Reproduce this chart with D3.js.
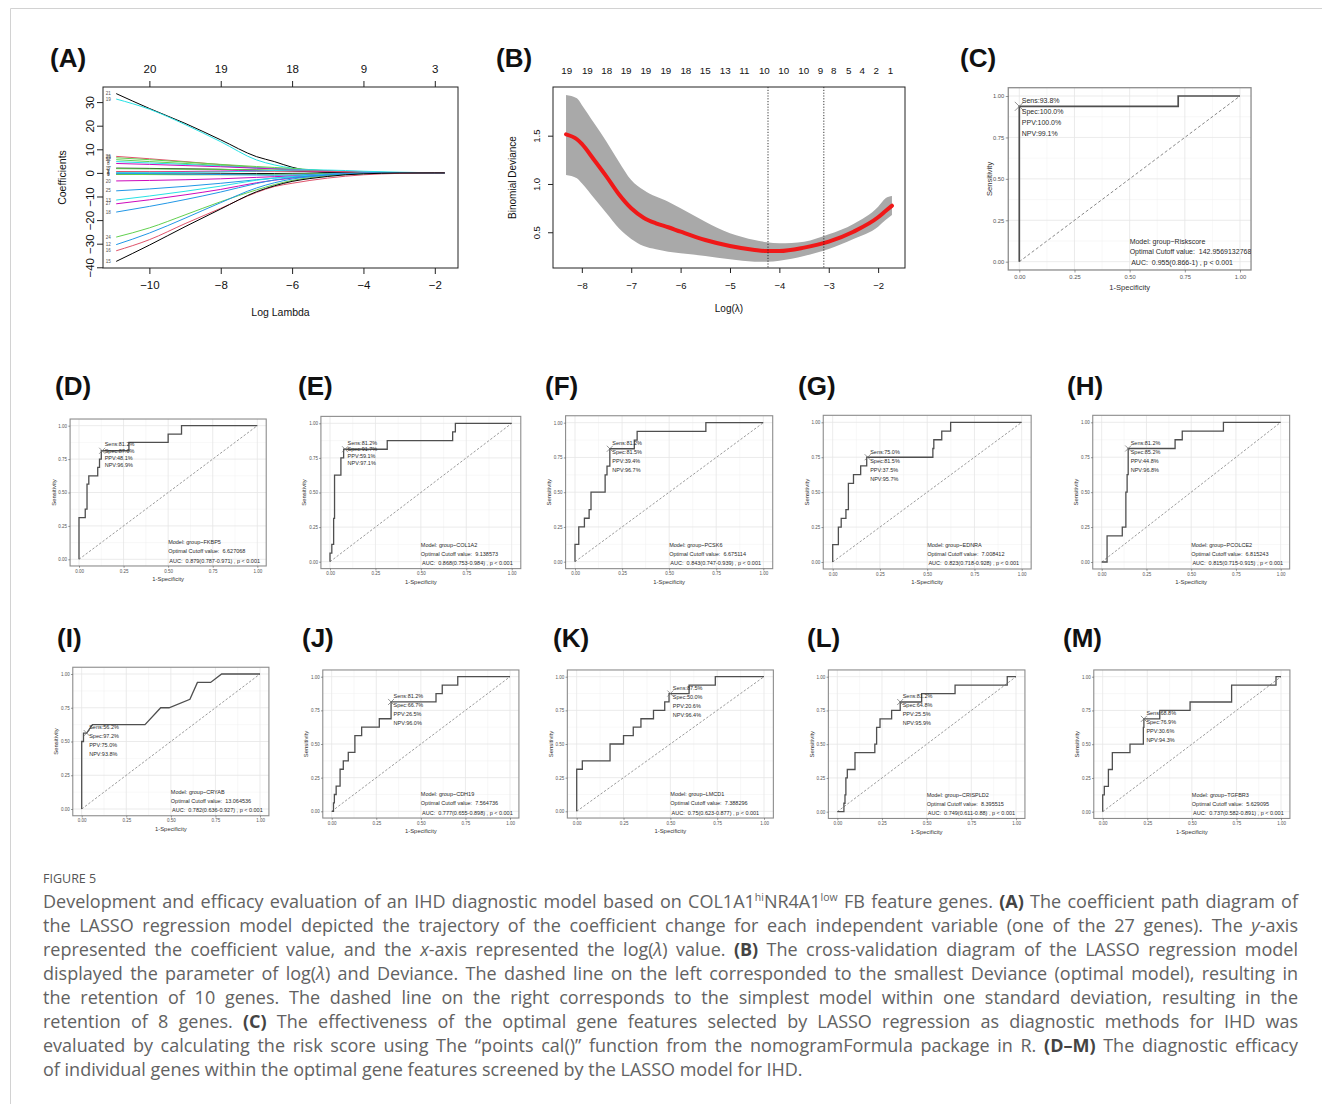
<!DOCTYPE html>
<html><head><meta charset="utf-8">
<script src="https://cdn.jsdelivr.net/npm/d3@7"></script>
<style>
body{margin:0;background:#fff;}
#wrap{position:relative;width:1322px;height:1104px;overflow:hidden;background:#fff;}
#wrap svg{position:absolute;left:0;top:0;}
.cap{position:absolute;left:43px;white-space:nowrap;font-family:'Open Sans','Noto Sans',sans-serif;font-size:18px;color:#626262;line-height:24px;}
.cap b{color:#444;font-weight:700;}
.cap sup{font-size:10.5px;vertical-align:0;position:relative;top:-7px;line-height:0;}
.fig{position:absolute;left:43px;top:870px;font-family:'Open Sans','Noto Sans',sans-serif;font-size:12.5px;color:#555;line-height:18px;}
</style></head><body><div id="wrap"></div>
<script>
// ---------------- DATA ----------------
// Panel A: LASSO coefficient paths
const lassoLogLambda = [-10.93,-10,-9,-8,-7,-6.5,-6,-5.5,-5,-4.5,-4,-3,-2,-1.72];
const lassoXTicks = [-10,-8,-6,-4,-2];
const lassoYTicks = [-40,-30,-20,-10,0,10,20,30];
const lassoTopTicks = [-10,-8,-6,-4,-2];
const lassoTopLabels = ["20","19","18","9","3"];
const lassoGenes = ["21","19","26","23","22","5","8","17","3","1","6","9","2","4","7","20","25","13","27","18","24","12","16","15"];
const lassoColors = ["#000000","#28E2E5","#DF536B","#61D04F","#61D04F","#28E2E5","#CD0BBC","#000000","#61D04F","#CD0BBC","#000000","#61D04F","#DF536B","#2297E6","#28E2E5","#CD0BBC","#2297E6","#28E2E5","#CD0BBC","#2297E6","#61D04F","#2297E6","#DF536B","#000000"];
const lassoCoefs = [
 [33.6,27.3,21.0,14.0,6.9,4.8,2.4,0.9,0.3,0.1,0,0,0,0],
 [31.3,27.0,20.5,13.2,5.5,3.4,2.0,1.3,0.8,0.4,0.1,0,0,0],
 [7.0,6.0,4.8,3.5,2.3,1.8,1.4,1.0,0.7,0.4,0.2,0.05,0,0],
 [6.4,5.6,4.6,3.6,2.7,2.3,1.9,1.4,0.9,0.5,0.2,0.05,0,0],
 [5.6,4.8,4.0,3.1,2.2,1.8,1.5,1.1,0.7,0.4,0.2,0,0,0],
 [4.8,4.2,3.6,2.9,2.1,1.8,1.5,1.2,0.8,0.5,0.3,0.1,0,0],
 [4.0,3.6,3.1,2.6,2.0,1.7,1.4,1.1,0.8,0.5,0.3,0.1,0,0],
 [2.0,1.9,1.7,1.5,1.2,1.0,0.8,0.5,0.3,0.1,0,0,0,0],
 [1.8,1.7,1.6,1.5,1.3,1.2,1.1,0.9,0.6,0.3,0.1,0,0,0],
 [0.3,0.4,0.6,0.8,1.0,1.0,0.9,0.7,0.5,0.3,0.2,0.05,0,0],
 [-0.5,-0.5,-0.5,-0.4,-0.3,-0.25,-0.2,-0.15,-0.1,-0.05,0,0,0,0],
 [-0.6,-0.7,-0.8,-0.8,-0.7,-0.6,-0.5,-0.4,-0.3,-0.2,-0.1,0,0,0],
 [0.6,0.5,0.4,0.5,0.6,0.7,0.8,0.8,0.7,0.5,0.3,0.1,0,0],
 [-0.2,-0.3,-0.5,-0.7,-0.9,-1.0,-0.9,-0.7,-0.5,-0.3,-0.2,-0.05,0,0],
 [0.1,0.1,0.2,0.4,0.8,1.0,1.2,1.3,1.2,1.0,0.7,0.3,0.05,0],
 [-3.4,-3.2,-2.9,-2.5,-1.9,-1.6,-1.3,-1.0,-0.7,-0.4,-0.2,0,0,0],
 [-7.6,-6.8,-5.7,-4.4,-2.9,-2.2,-1.6,-1.1,-0.7,-0.4,-0.2,0,0,0],
 [-11.5,-9.8,-7.8,-5.6,-3.1,-2.2,-1.5,-1.0,-0.6,-0.3,-0.1,0,0,0],
 [-13.1,-11.4,-9.3,-7.0,-4.2,-3.1,-2.2,-1.5,-0.9,-0.5,-0.2,0,0,0],
 [-16.6,-14.2,-11.3,-8.1,-4.5,-3.0,-2.0,-1.3,-0.8,-0.4,-0.2,0,0,0],
 [-27.2,-23.3,-17.8,-12.2,-7.2,-5.0,-3.2,-2.0,-1.2,-0.6,-0.3,-0.05,0,0],
 [-30.4,-25.5,-19.2,-12.6,-6.4,-4.2,-2.6,-1.6,-0.9,-0.4,-0.1,0,0,0],
 [-33.0,-28.3,-21.5,-15.0,-8.3,-5.8,-4.4,-3.2,-2.2,-1.4,-0.8,-0.2,0,0],
 [-37.5,-30.6,-22.8,-15.3,-8.0,-5.5,-3.6,-2.4,-1.5,-0.8,-0.4,-0.05,0,0]
];

// Panel B: cross-validation curve
const cvLogLambda = [-8.32,-8.1,-8.0,-7.75,-7.5,-7.25,-7.0,-6.75,-6.5,-6.25,-6.0,-5.5,-5.0,-4.5,-4.25,-4.0,-3.5,-3.0,-2.5,-2.0,-1.85,-1.72];
const cvMean  = [1.514,1.463,1.414,1.248,1.076,0.893,0.748,0.651,0.593,0.552,0.506,0.420,0.358,0.317,0.306,0.306,0.341,0.403,0.506,0.655,0.720,0.775];
const cvUpper = [1.921,1.887,1.818,1.628,1.438,1.231,1.041,0.938,0.869,0.817,0.748,0.610,0.490,0.420,0.396,0.386,0.403,0.479,0.586,0.765,0.852,0.876];
const cvLower = [1.093,1.059,1.007,0.852,0.697,0.541,0.431,0.358,0.324,0.299,0.283,0.255,0.220,0.196,0.196,0.206,0.255,0.327,0.431,0.558,0.627,0.679];
const cvXTicks = [-8,-7,-6,-5,-4,-3,-2];
const cvYTicks = [0.5,1.0,1.5];
const cvTopLambda = [-8.306,-7.888,-7.495,-7.103,-6.704,-6.298,-5.893,-5.501,-5.095,-4.710,-4.304,-3.913,-3.507,-3.168,-2.898,-2.594,-2.322,-2.038,-1.749];
const cvTopLabels = ["19","19","18","19","19","19","18","15","13","11","10","10","10","9","8","5","4","2","1"];
const cvLambdaMin = -4.23;
const cvLambda1se = -3.10;

// Panels C-M: ROC curves
const rocIds = ["C","D","E","F","G","H","I","J","K","L","M"];
const rocGenes = ["Riskscore","FKBP5","COL1A2","PCSK6","EDNRA","PCOLCE2","CRYAB","CDH19","LMCD1","CRISPLD2","TGFBR3"];
const rocCutoffs = ["142.95691327688","6.627068","9.138573","6.675114","7.008412","6.815243","13.064536","7.564736","7.388296","8.395515","5.629095"];
const rocAUC = ["0.955(0.866-1)","0.879(0.787-0.971)","0.868(0.753-0.984)","0.843(0.747-0.939)","0.823(0.718-0.928)","0.815(0.715-0.915)","0.782(0.636-0.927)","0.777(0.655-0.898)","0.75(0.623-0.877)","0.749(0.611-0.88)","0.737(0.582-0.891)"];
const rocSens = ["93.8%","81.2%","81.2%","81.2%","75.0%","81.2%","56.2%","81.2%","87.5%","81.2%","68.8%"];
const rocSpec = ["100.0%","87.0%","91.7%","81.5%","81.5%","85.2%","97.2%","66.7%","50.0%","64.8%","76.9%"];
const rocPPV  = ["100.0%","48.1%","59.1%","39.4%","37.5%","44.8%","75.0%","26.5%","20.6%","25.5%","30.6%"];
const rocNPV  = ["99.1%","96.9%","97.1%","96.7%","95.7%","96.8%","93.8%","96.0%","96.4%","95.9%","94.3%"];
const rocOpt = [[0,0.9375],[0.13,0.8125],[0.083,0.8125],[0.185,0.8125],[0.185,0.75],[0.148,0.8125],[0.028,0.5625],[0.333,0.8125],[0.5,0.875],[0.352,0.8125],[0.231,0.6875]];
const rocCurves = [
 [[0,0],[0,0.9375],[0.72,0.9375],[0.72,1],[1,1]],
 [[0,0],[0,0.3125],[0.035,0.3125],[0.035,0.375],[0.045,0.375],[0.045,0.5625],[0.055,0.5625],[0.055,0.625],[0.105,0.625],[0.105,0.6875],[0.115,0.6875],[0.115,0.75],[0.125,0.75],[0.125,0.8125],[0.28,0.8125],[0.28,0.875],[0.5,0.875],[0.5,0.9375],[0.575,0.9375],[0.575,1],[1,1]],
 [[0,0],[0,0.0625],[0.01,0.0625],[0.01,0.125],[0.02,0.125],[0.02,0.3125],[0.025,0.3125],[0.025,0.625],[0.06,0.625],[0.06,0.75],[0.075,0.75],[0.075,0.8125],[0.315,0.8125],[0.315,0.875],[0.675,0.875],[0.675,0.9375],[0.69,0.9375],[0.69,1],[1,1]],
 [[0,0],[0,0.125],[0.02,0.125],[0.02,0.25],[0.05,0.25],[0.05,0.3125],[0.075,0.3125],[0.075,0.375],[0.085,0.375],[0.085,0.5],[0.16,0.5],[0.16,0.625],[0.17,0.625],[0.17,0.6875],[0.185,0.6875],[0.185,0.8125],[0.315,0.8125],[0.315,0.875],[0.33,0.875],[0.33,0.9375],[0.695,0.9375],[0.695,1],[1,1]],
 [[0,0],[0,0.125],[0.03,0.125],[0.03,0.25],[0.045,0.25],[0.045,0.3125],[0.07,0.3125],[0.07,0.375],[0.083,0.375],[0.083,0.5625],[0.11,0.5625],[0.11,0.625],[0.148,0.625],[0.148,0.6875],[0.18,0.6875],[0.18,0.75],[0.53,0.75],[0.53,0.8125],[0.535,0.8125],[0.535,0.875],[0.577,0.875],[0.577,0.9375],[0.624,0.9375],[0.624,1],[1,1]],
 [[0,0],[0.03,0],[0.03,0.1875],[0.115,0.1875],[0.115,0.25],[0.135,0.25],[0.135,0.5],[0.142,0.5],[0.142,0.625],[0.148,0.625],[0.148,0.8125],[0.41,0.8125],[0.41,0.875],[0.45,0.875],[0.45,0.9375],[0.68,0.9375],[0.68,1],[1,1]],
 [[0,0],[0,0.5],[0.01,0.5],[0.01,0.5625],[0.028,0.5625],[0.06,0.625],[0.355,0.625],[0.443,0.75],[0.49,0.75],[0.607,0.8125],[0.649,0.9375],[0.723,0.9375],[0.785,1],[1,1]],
 [[0,0],[0.01,0],[0.01,0.0625],[0.015,0.0625],[0.015,0.125],[0.025,0.125],[0.025,0.1875],[0.047,0.1875],[0.047,0.3125],[0.065,0.3125],[0.065,0.375],[0.093,0.375],[0.093,0.4375],[0.13,0.4375],[0.13,0.5625],[0.168,0.5625],[0.168,0.625],[0.267,0.625],[0.267,0.6875],[0.333,0.6875],[0.333,0.8125],[0.585,0.8125],[0.585,0.875],[0.62,0.875],[0.62,0.9375],[0.707,0.9375],[0.707,1],[1,1]],
 [[0,0],[0,0.3125],[0.03,0.3125],[0.03,0.375],[0.178,0.375],[0.178,0.5],[0.25,0.5],[0.25,0.5625],[0.302,0.5625],[0.302,0.625],[0.343,0.625],[0.343,0.6875],[0.41,0.6875],[0.41,0.75],[0.47,0.75],[0.47,0.8125],[0.493,0.8125],[0.493,0.875],[0.6,0.875],[0.6,0.9375],[0.74,0.9375],[0.74,1],[1,1]],
 [[0,0],[0.037,0],[0.037,0.0625],[0.043,0.0625],[0.043,0.125],[0.048,0.125],[0.048,0.25],[0.056,0.25],[0.056,0.3125],[0.099,0.3125],[0.099,0.4375],[0.21,0.4375],[0.21,0.5],[0.22,0.5],[0.22,0.625],[0.239,0.625],[0.239,0.6875],[0.304,0.6875],[0.304,0.75],[0.352,0.75],[0.352,0.8125],[0.472,0.8125],[0.472,0.875],[0.659,0.875],[0.659,0.9375],[0.951,0.9375],[0.951,1],[1,1]],
 [[0,0],[0,0.125],[0.009,0.125],[0.009,0.1875],[0.032,0.1875],[0.032,0.3125],[0.054,0.3125],[0.054,0.4375],[0.153,0.4375],[0.153,0.5],[0.228,0.5],[0.228,0.625],[0.231,0.625],[0.231,0.6875],[0.32,0.6875],[0.32,0.75],[0.49,0.75],[0.49,0.8125],[0.723,0.8125],[0.723,0.9375],[0.972,0.9375],[0.972,1],[1,1]]
];
const rocTicks = [0,0.25,0.5,0.75,1];
const rocTickLabels = ["0.00","0.25","0.50","0.75","1.00"];

// Caption
const figureTitle = "FIGURE 5";
const captionLines = [
 "Development and efficacy evaluation of an IHD diagnostic model based on COL1A1<sup>hi</sup>NR4A1<sup>low</sup> FB feature genes. <b>(A)</b> The coefficient path diagram of",
 "the LASSO regression model depicted the trajectory of the coefficient change for each independent variable (one of the 27 genes). The <i>y</i>-axis",
 "represented the coefficient value, and the <i>x</i>-axis represented the log(<i>λ</i>) value. <b>(B)</b> The cross-validation diagram of the LASSO regression model",
 "displayed the parameter of log(<i>λ</i>) and Deviance. The dashed line on the left corresponded to the smallest Deviance (optimal model), resulting in",
 "the retention of 10 genes. The dashed line on the right corresponds to the simplest model within one standard deviation, resulting in the",
 "retention of 8 genes. <b>(C)</b> The effectiveness of the optimal gene features selected by LASSO regression as diagnostic methods for IHD was",
 "evaluated by calculating the risk score using The “points cal()” function from the nomogramFormula package in R. <b>(D–M)</b> The diagnostic efficacy",
 "of individual genes within the optimal gene features screened by the LASSO model for IHD."
];

// ---------------- LAYOUT ----------------
const W = 1322, H = 1104;
const FONT = "'Liberation Sans', Arial, Helvetica, sans-serif";
const panelLetters = [
 ["(A)",50,67],["(B)",496,67],["(C)",960,67],
 ["(D)",55,395],["(E)",298,395],["(F)",545,395],["(G)",798,395],["(H)",1067,395],
 ["(I)",57,647],["(J)",302,647],["(K)",553,647],["(L)",807,647],["(M)",1063,647]
];
// tick pixel positions of 0 and 1 for each ROC panel: [x@0, x@1, y@0, y@1]
const rocLayout = [
 [1019.3,1240,261.7,96],
 [79,257.3,559.3,425.7],
 [330,511.7,561.7,423.3],
 [575,763.3,561.7,422.7],
 [832.7,1021.7,562,422.3],
 [1101.7,1280.7,562,422.3],
 [81.7,260,809,674],
 [331.7,510,811.3,676.7],
 [576.7,764,811.3,676.7],
 [837.3,1016,811.7,676.7],
 [1102.7,1281,811.7,676.7]
];

const wrap = d3.select("#wrap");
const svg = wrap.append("svg").attr("width", W).attr("height", H);
svg.append("rect").attr("width", W).attr("height", H).attr("fill", "#fff");
svg.append("path").attr("d", "M10.5,1104V8.5H1322").attr("fill", "none").attr("stroke", "#d2d2d2").attr("stroke-width", 1);

// panel letters
svg.append("g").selectAll("text").data(panelLetters).join("text")
  .attr("x", d => d[1]).attr("y", d => d[2]).text(d => d[0])
  .attr("font-family", FONT).attr("font-weight", 700).attr("font-size", 26).attr("fill", "#111");

// ---------------- PANEL A ----------------
(function(){
  const box = {x0:103, x1:458, y0:87, y1:268};
  const x = d3.scaleLinear().domain([-11.30,-1.35]).range([box.x0, box.x1]);
  const y = d3.scaleLinear().domain([-40.3,36.4]).range([box.y1, box.y0]);
  const g = svg.append("g").attr("font-family", FONT);
  const line = d3.line().x(d => x(d[0])).y(d => y(d[1])).curve(d3.curveMonotoneX);
  lassoCoefs.forEach((vals, i) => {
    g.append("path").datum(vals.map((v, j) => [lassoLogLambda[j], v]))
      .attr("d", line).attr("fill", "none").attr("stroke", lassoColors[i]).attr("stroke-width", 1);
  });
  g.selectAll("text.lab").data(lassoCoefs).join("text").attr("class","lab")
    .attr("x", x(lassoLogLambda[0]) - 8).attr("y", d => y(d[0]) + 1.6)
    .attr("text-anchor", "middle").attr("font-size", 4.6).attr("fill", "#555")
    .text((d, i) => lassoGenes[i]);
  g.append("rect").attr("x", box.x0).attr("y", box.y0).attr("width", box.x1 - box.x0).attr("height", box.y1 - box.y0)
    .attr("fill", "none").attr("stroke", "#222").attr("stroke-width", 1);
  const ax = g.append("g").attr("transform", `translate(0,${box.y1})`)
    .call(d3.axisBottom(x).tickValues(lassoXTicks).tickSize(6).tickPadding(7).tickFormat(d3.format("d")));
  const at = g.append("g").attr("transform", `translate(0,${box.y0})`)
    .call(d3.axisTop(x).tickValues(lassoTopTicks).tickSize(6).tickPadding(8).tickFormat((d,i) => lassoTopLabels[i]));
  const ay = g.append("g").attr("transform", `translate(${box.x0},0)`)
    .call(d3.axisLeft(y).tickValues(lassoYTicks).tickSize(6).tickFormat(d3.format("d")));
  [ax, at, ay].forEach(a => { a.select(".domain").remove(); a.selectAll("line").attr("stroke", "#222");
    a.selectAll("text").attr("font-family", FONT).attr("font-size", 11.5).attr("fill", "#111"); });
  ay.selectAll("text").attr("x", null).attr("dy", "0.35em").attr("text-anchor", "middle")
    .attr("transform", "translate(-13,0) rotate(-90)");
  g.append("text").attr("transform", `translate(62,${(box.y0 + box.y1) / 2}) rotate(-90)`).attr("dy", "0.35em")
    .attr("text-anchor", "middle").attr("font-size", 10.5).attr("fill", "#111").text("Coefficients");
  g.append("text").attr("x", (box.x0 + box.x1) / 2).attr("y", 315.5)
    .attr("text-anchor", "middle").attr("font-size", 10.5).attr("fill", "#111").text("Log Lambda");
})();

// ---------------- PANEL B ----------------
(function(){
  const box = {x0:553, x1:905, y0:87, y1:268};
  const x = d3.scaleLinear().domain([-8.584,-1.456]).range([box.x0, box.x1]);
  const y = d3.scaleLinear().domain([0.13,2.004]).range([box.y1, box.y0]);
  const g = svg.append("g").attr("font-family", FONT);
  const pts = cvLogLambda.map((l, i) => ({l, m: cvMean[i], u: cvUpper[i], lo: cvLower[i]}));
  g.append("path").datum(pts)
    .attr("d", d3.area().x(d => x(d.l)).y0(d => y(d.lo)).y1(d => y(d.u)).curve(d3.curveMonotoneX))
    .attr("fill", "#a9a9a9");
  g.append("path").datum(pts)
    .attr("d", d3.line().x(d => x(d.l)).y(d => y(d.m)).curve(d3.curveMonotoneX))
    .attr("fill", "none").attr("stroke", "#f01818").attr("stroke-width", 4).attr("stroke-linecap", "round");
  [cvLambdaMin, cvLambda1se].forEach(v => {
    g.append("line").attr("x1", x(v)).attr("x2", x(v)).attr("y1", box.y0).attr("y2", box.y1)
      .attr("stroke", "#222").attr("stroke-width", 0.9).attr("stroke-dasharray", "1.2,1.6");
  });
  g.append("rect").attr("x", box.x0).attr("y", box.y0).attr("width", box.x1 - box.x0).attr("height", box.y1 - box.y0)
    .attr("fill", "none").attr("stroke", "#222").attr("stroke-width", 1);
  const ax = g.append("g").attr("transform", `translate(0,${box.y1})`)
    .call(d3.axisBottom(x).tickValues(cvXTicks).tickSize(5).tickPadding(9).tickFormat(d3.format("d")));
  const ay = g.append("g").attr("transform", `translate(${box.x0},0)`)
    .call(d3.axisLeft(y).tickValues(cvYTicks).tickSize(5).tickFormat(d3.format(".1f")));
  [ax, ay].forEach(a => { a.select(".domain").remove(); a.selectAll("line").attr("stroke", "#222");
    a.selectAll("text").attr("font-family", FONT).attr("font-size", 9.5).attr("fill", "#111"); });
  ay.selectAll("text").attr("x", null).attr("dy", "0.35em").attr("text-anchor", "middle")
    .attr("transform", "translate(-16,0) rotate(-90)");
  g.selectAll("text.top").data(cvTopLambda).join("text").attr("class", "top")
    .attr("x", d => x(d)).attr("y", 74.2).attr("text-anchor", "middle")
    .attr("font-size", 9.8).attr("fill", "#111").text((d, i) => cvTopLabels[i]);
  g.append("text").attr("transform", `translate(512,${(box.y0 + box.y1) / 2}) rotate(-90)`).attr("dy", "0.35em")
    .attr("text-anchor", "middle").attr("font-size", 10).attr("fill", "#111").text("Binomial Deviance");
  g.append("text").attr("x", (box.x0 + box.x1) / 2).attr("y", 312)
    .attr("text-anchor", "middle").attr("font-size", 10).attr("fill", "#111").text("Log(λ)");
})();

// ---------------- ROC PANELS ----------------
rocIds.forEach((id, i) => {
  const [px0, px1, py0, py1] = rocLayout[i];
  const big = i === 0;
  const x = d3.scaleLinear().domain([0, 1]).range([px0, px1]);
  const y = d3.scaleLinear().domain([0, 1]).range([py0, py1]);
  const bx0 = x(-0.05), bx1 = x(1.05), by0 = y(1.05), by1 = y(-0.05);
  const fs = big ? {ann: 7, tick: 5.8, title: 7.6} : {ann: 5.5, tick: 4.5, title: 5.9};
  const tight = (id === "D" || id === "E");
  const gap = big ? 11 : (tight ? 6.8 : 9);
  const first = big ? -6 : (tight ? -6.5 : -5.5);
  const g = svg.append("g").attr("font-family", FONT);
  const clipId = "clip" + id;
  g.append("clipPath").attr("id", clipId).append("rect")
    .attr("x", bx0).attr("y", by0).attr("width", bx1 - bx0).attr("height", by1 - by0);
  // grid
  const minor = [0.125, 0.375, 0.625, 0.875];
  minor.forEach(v => {
    g.append("line").attr("x1", x(v)).attr("x2", x(v)).attr("y1", by0).attr("y2", by1).attr("stroke", "#f1f1f1").attr("stroke-width", 0.5);
    g.append("line").attr("y1", y(v)).attr("y2", y(v)).attr("x1", bx0).attr("x2", bx1).attr("stroke", "#f1f1f1").attr("stroke-width", 0.5);
  });
  rocTicks.forEach(v => {
    g.append("line").attr("x1", x(v)).attr("x2", x(v)).attr("y1", by0).attr("y2", by1).attr("stroke", "#e6e6e6").attr("stroke-width", 0.8);
    g.append("line").attr("y1", y(v)).attr("y2", y(v)).attr("x1", bx0).attr("x2", bx1).attr("stroke", "#e6e6e6").attr("stroke-width", 0.8);
  });
  // diagonal
  g.append("line").attr("x1", x(0)).attr("y1", y(0)).attr("x2", x(1)).attr("y2", y(1))
    .attr("stroke", "#7a7a7a").attr("stroke-width", big ? 0.9 : 0.75).attr("stroke-dasharray", big ? "3,2.2" : "2.4,1.8");
  // curve
  g.append("path").datum(rocCurves[i])
    .attr("d", d3.line().x(d => x(d[0])).y(d => y(d[1])))
    .attr("fill", "none").attr("stroke", "#4f4f4f").attr("stroke-width", big ? 1.7 : 1.3).attr("stroke-linejoin", "miter");
  // optimal marker
  const ox = x(rocOpt[i][0]), oy = y(rocOpt[i][1]);
  const ms = big ? 4.5 : 3;
  g.append("path").attr("d", `M${ox - ms},${oy - ms}L${ox + ms},${oy + ms}M${ox - ms},${oy + ms}L${ox + ms},${oy - ms}`)
    .attr("stroke", "#6a6a6a").attr("stroke-width", 0.7).attr("fill", "none");
  // border
  g.append("rect").attr("x", bx0).attr("y", by0).attr("width", bx1 - bx0).attr("height", by1 - by0)
    .attr("fill", "none").attr("stroke", "#8c8c8c").attr("stroke-width", big ? 1.3 : 1.1);
  // axes
  const tl = big ? 2.5 : 1.8;
  const ax = g.append("g").attr("transform", `translate(0,${by1})`)
    .call(d3.axisBottom(x).tickValues(rocTicks).tickSize(tl).tickPadding(big ? 2.5 : 1.6).tickFormat((d, k) => rocTickLabels[k]));
  const ay = g.append("g").attr("transform", `translate(${bx0},0)`)
    .call(d3.axisLeft(y).tickValues(rocTicks).tickSize(tl).tickPadding(big ? 1.5 : 1.2).tickFormat((d, k) => rocTickLabels[k]));
  [ax, ay].forEach(a => { a.select(".domain").remove(); a.selectAll("line").attr("stroke", "#555").attr("stroke-width", 0.6);
    a.selectAll("text").attr("font-family", FONT).attr("font-size", fs.tick).attr("fill", "#555"); });
  g.append("text").attr("x", (bx0 + bx1) / 2).attr("y", by1 + (big ? 17 : 13)).attr("dy", "0.35em")
    .attr("text-anchor", "middle").attr("font-size", fs.title).attr("fill", "#333").text("1-Specificity");
  g.append("text").attr("transform", `translate(${bx0 - (big ? 19.3 : 16.5)},${(by0 + by1) / 2}) rotate(-90)`).attr("dy", "0.35em")
    .attr("text-anchor", "middle").attr("font-size", fs.title).attr("fill", "#333").text("Sensitivity");
  // annotations
  const ann = g.append("g").attr("clip-path", `url(#${clipId})`).attr("font-size", fs.ann).attr("fill", "#2a2a2a");
  const topTexts = ["Sens:" + rocSens[i], "Spec:" + rocSpec[i], "PPV:" + rocPPV[i], "NPV:" + rocNPV[i]];
  ann.selectAll("text.t").data(topTexts).join("text").attr("class", "t")
    .attr("x", ox + 2.5).attr("y", (d, k) => oy + first + k * gap).attr("dy", "0.35em").text(d => d);
  const botTexts = ["Model: group~" + rocGenes[i], "Optimal Cutoff value:  " + rocCutoffs[i], " AUC:  " + rocAUC[i] + " , p < 0.001"];
  const botOff = big ? [-20.3, -9.7, 1.3] : [-17, -8, 1.5];
  ann.selectAll("text.b").data(botTexts).join("text").attr("class", "b")
    .attr("x", x(0.5)).attr("y", (d, k) => py0 + botOff[k]).attr("dy", "0.35em")
    .attr("xml:space", "preserve").style("white-space", "pre").text(d => d);
});

// ---------------- CAPTION ----------------
wrap.append("div").attr("class", "fig").text(figureTitle);
const capTarget = 1255;
captionLines.forEach((html, i) => {
  const div = wrap.append("div").attr("class", "cap").style("top", (889 + i * 24) + "px");
  const span = div.append("span").style("display", "inline-block").html(html);
  if (i < captionLines.length - 1) {
    const w = span.node().getBoundingClientRect().width;
    const n = (span.node().textContent.match(/ /g) || []).length;
    if (w < capTarget) span.style("word-spacing", ((capTarget - w) / n) + "px");
    else span.style("transform", `scaleX(${capTarget / w})`).style("transform-origin", "0 0");
  }
});
</script></body></html>
